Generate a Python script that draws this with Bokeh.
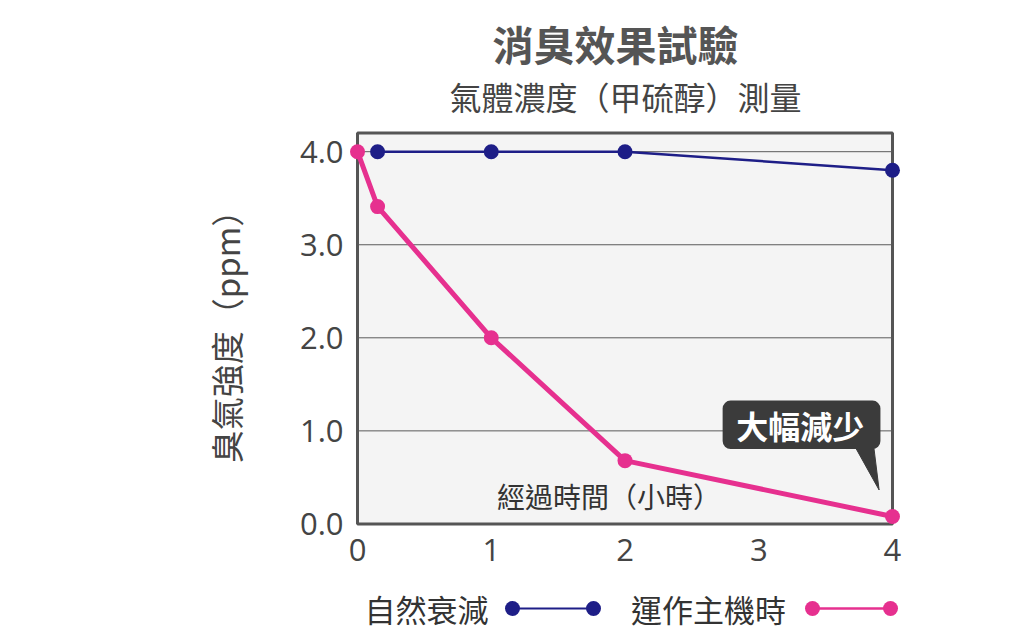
from bokeh.plotting import figure
from bokeh.models import FixedTicker, PrintfTickFormatter, Label, BoxAnnotation
from bokeh.layouts import column
from bokeh.embed import file_html
from bokeh.resources import INLINE
from bokeh.core.properties import value

# ---- data ----
title_text = "消臭效果試驗"
subtitle_text = "氣體濃度（甲硫醇）測量"
series_names = ["自然衰減", "運作主機時"]
hours_natural = [0.15, 1, 2, 4]
ppm_natural = [4.0, 4.0, 4.0, 3.8]
hours_device = [0, 0.15, 1, 2, 4]
ppm_device = [4.0, 3.41, 2.0, 0.68, 0.08]
x_ticks = [0, 1, 2, 3, 4]
y_ticks = [0, 1, 2, 3, 4]
grid_levels = [1, 2, 3, 4]

NAVY = "#1e1e87"
PINK = "#e6308f"
CJK = "Noto Sans CJK TC"
NUM = "Open Sans"

FL, FW, FR = 349, 551, 125


def strip(h):
    f = figure(frame_width=FW, frame_height=h, x_range=(FL, FL + FW), y_range=(0, h),
               output_backend="svg", toolbar_location=None,
               min_border_left=FL, min_border_right=FR, min_border_top=0,
               min_border_bottom=0, outline_line_color=None,
               background_fill_color="white", border_fill_color="white")
    f.axis.visible = False
    f.grid.visible = False
    f.title.visible = False
    return f


# title strip (coordinates in page pixels)
TH = 124
top = strip(TH)
top.text(x=[615], y=[TH - 42], text=[title_text], text_align="center",
         text_baseline="middle", text_font=value(CJK), text_font_size="41px",
         text_font_style="bold", text_color="#555555")
top.text(x=[625], y=[TH - 95], text=[subtitle_text], text_align="center",
         text_baseline="middle", text_font=value(CJK), text_font_size="32px",
         text_color="#444444")

p = figure(frame_width=FW, frame_height=402,
           x_range=(-0.06, 4.06), y_range=(-0.06, 4.26),
           output_backend="svg", toolbar_location=None,
           min_border_left=FL, min_border_right=FR,
           min_border_top=127 - TH, min_border_bottom=48,
           background_fill_color="white", border_fill_color="white",
           outline_line_color=None)
p.title.visible = False
p.xgrid.visible = False
p.ygrid.visible = False

# plot area background + frame
p.add_layout(BoxAnnotation(left=0, right=4, bottom=0, top=4.2,
                           fill_color="#f4f4f4", fill_alpha=1,
                           line_color="#555555", line_alpha=1, line_width=3,
                           level="underlay"))
# grid lines
p.segment(x0=[0] * len(grid_levels), x1=[4] * len(grid_levels),
          y0=grid_levels, y1=grid_levels, line_color="#5a5a5a", line_width=1)

# axes
p.xaxis.ticker = FixedTicker(ticks=x_ticks)
p.yaxis.ticker = FixedTicker(ticks=y_ticks)
p.yaxis.formatter = PrintfTickFormatter(format="%.1f")
for ax in (p.xaxis, p.yaxis):
    ax.axis_line_color = None
    ax.major_tick_line_color = None
    ax.minor_tick_line_color = None
    ax.major_label_text_font_size = "31px"
    ax.major_label_text_color = "#444444"
    ax.major_label_text_font = NUM
p.xaxis.major_label_standoff = 3
p.yaxis.major_label_standoff = 0
p.yaxis.axis_label = "臭氣強度（ppm）"
p.yaxis.axis_label_text_font = CJK
p.yaxis.axis_label_text_font_size = "33px"
p.yaxis.axis_label_text_font_style = "normal"
p.yaxis.axis_label_text_color = "#444444"
p.yaxis.axis_label_standoff = 47

# series
p.line(hours_natural, ppm_natural, line_color=NAVY, line_width=2.5)
p.scatter(hours_natural, ppm_natural, size=15, fill_color=NAVY, line_color=None)
p.line(hours_device, ppm_device, line_color=PINK, line_width=5)
p.scatter(hours_device, ppm_device, size=15, fill_color=PINK, line_color=None)

# x axis caption inside plot
p.add_layout(Label(x=1.88, y=0.30, text="經過時間（小時）", text_align="center",
                   text_baseline="middle", text_font=CJK, text_font_size="28px",
                   text_color="#333333"))

# callout
p.add_layout(BoxAnnotation(left=2.73, right=3.91, bottom=0.805, top=1.325,
                           fill_color="#3b3b3b", fill_alpha=1, line_color=None,
                           border_radius=8))
p.patch([3.72, 3.86, 3.90], [0.83, 0.83, 0.365], color="#3b3b3b")
p.add_layout(Label(x=3.31, y=1.065, text="大幅減少", text_align="center",
                   text_baseline="middle", text_font=CJK, text_font_size="32px",
                   text_font_style="bold", text_color="white"))

# legend row (x in page pixels)
LH = 54
leg = strip(LH)
leg.text(x=[426, 708], y=[23, 23], text=series_names, text_align="center",
         text_baseline="middle", text_font=value(CJK), text_font_size="31px",
         text_color="#333333")
leg.line([512, 593], [23, 23], line_color=NAVY, line_width=2)
leg.scatter([512, 593], [23, 23], size=15, fill_color=NAVY, line_color=None)
leg.line([812, 890], [23, 23], line_color=PINK, line_width=2.5)
leg.scatter([812, 890], [23, 23], size=15, fill_color=PINK, line_color=None)

layout = column(top, p, leg, spacing=0)
open("out.html", "w").write(file_html(layout, INLINE))
